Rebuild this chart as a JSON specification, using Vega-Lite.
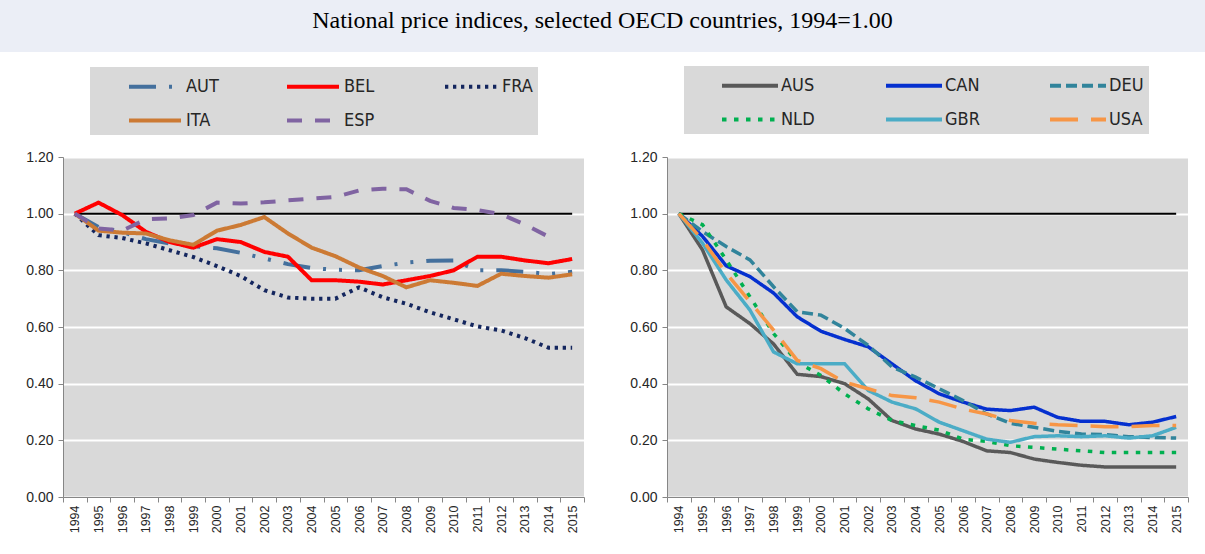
{
  "$schema": "https://vega.github.io/schema/vega-lite/v6.json",
  "background": "white",
  "padding": 0,
  "config": {
    "view": {"stroke": null},
    "font": "Liberation Sans",
    "axis": {"labelFont": "Liberation Sans", "labelColor": "#262626", "domainColor": "#868686", "tickColor": "#868686", "title": null}
  },
  "datasets": {
    "ref": [{"year": "1994", "v": 1}, {"year": "2015", "v": 1}],
    "left": [
      {"year": "1994", "c": "AUT", "v": 1.0}, {"year": "1995", "c": "AUT", "v": 0.953}, {"year": "1996", "c": "AUT", "v": 0.935}, {"year": "1997", "c": "AUT", "v": 0.91}, {"year": "1998", "c": "AUT", "v": 0.895}, {"year": "1999", "c": "AUT", "v": 0.885}, {"year": "2000", "c": "AUT", "v": 0.878}, {"year": "2001", "c": "AUT", "v": 0.862}, {"year": "2002", "c": "AUT", "v": 0.842}, {"year": "2003", "c": "AUT", "v": 0.822}, {"year": "2004", "c": "AUT", "v": 0.808}, {"year": "2005", "c": "AUT", "v": 0.802}, {"year": "2006", "c": "AUT", "v": 0.8}, {"year": "2007", "c": "AUT", "v": 0.815}, {"year": "2008", "c": "AUT", "v": 0.827}, {"year": "2009", "c": "AUT", "v": 0.834}, {"year": "2010", "c": "AUT", "v": 0.835}, {"year": "2011", "c": "AUT", "v": 0.8}, {"year": "2012", "c": "AUT", "v": 0.8}, {"year": "2013", "c": "AUT", "v": 0.795}, {"year": "2014", "c": "AUT", "v": 0.787}, {"year": "2015", "c": "AUT", "v": 0.795},
      {"year": "1994", "c": "BEL", "v": 1.0}, {"year": "1995", "c": "BEL", "v": 1.039}, {"year": "1996", "c": "BEL", "v": 0.995}, {"year": "1997", "c": "BEL", "v": 0.936}, {"year": "1998", "c": "BEL", "v": 0.9}, {"year": "1999", "c": "BEL", "v": 0.88}, {"year": "2000", "c": "BEL", "v": 0.91}, {"year": "2001", "c": "BEL", "v": 0.9}, {"year": "2002", "c": "BEL", "v": 0.865}, {"year": "2003", "c": "BEL", "v": 0.848}, {"year": "2004", "c": "BEL", "v": 0.765}, {"year": "2005", "c": "BEL", "v": 0.765}, {"year": "2006", "c": "BEL", "v": 0.76}, {"year": "2007", "c": "BEL", "v": 0.75}, {"year": "2008", "c": "BEL", "v": 0.765}, {"year": "2009", "c": "BEL", "v": 0.78}, {"year": "2010", "c": "BEL", "v": 0.8}, {"year": "2011", "c": "BEL", "v": 0.848}, {"year": "2012", "c": "BEL", "v": 0.848}, {"year": "2013", "c": "BEL", "v": 0.835}, {"year": "2014", "c": "BEL", "v": 0.825}, {"year": "2015", "c": "BEL", "v": 0.84},
      {"year": "1994", "c": "FRA", "v": 1.0}, {"year": "1995", "c": "FRA", "v": 0.924}, {"year": "1996", "c": "FRA", "v": 0.914}, {"year": "1997", "c": "FRA", "v": 0.895}, {"year": "1998", "c": "FRA", "v": 0.871}, {"year": "1999", "c": "FRA", "v": 0.847}, {"year": "2000", "c": "FRA", "v": 0.815}, {"year": "2001", "c": "FRA", "v": 0.78}, {"year": "2002", "c": "FRA", "v": 0.73}, {"year": "2003", "c": "FRA", "v": 0.704}, {"year": "2004", "c": "FRA", "v": 0.7}, {"year": "2005", "c": "FRA", "v": 0.7}, {"year": "2006", "c": "FRA", "v": 0.74}, {"year": "2007", "c": "FRA", "v": 0.705}, {"year": "2008", "c": "FRA", "v": 0.682}, {"year": "2009", "c": "FRA", "v": 0.652}, {"year": "2010", "c": "FRA", "v": 0.627}, {"year": "2011", "c": "FRA", "v": 0.602}, {"year": "2012", "c": "FRA", "v": 0.588}, {"year": "2013", "c": "FRA", "v": 0.561}, {"year": "2014", "c": "FRA", "v": 0.527}, {"year": "2015", "c": "FRA", "v": 0.527},
      {"year": "1994", "c": "ITA", "v": 1.0}, {"year": "1995", "c": "ITA", "v": 0.94}, {"year": "1996", "c": "ITA", "v": 0.933}, {"year": "1997", "c": "ITA", "v": 0.93}, {"year": "1998", "c": "ITA", "v": 0.906}, {"year": "1999", "c": "ITA", "v": 0.89}, {"year": "2000", "c": "ITA", "v": 0.94}, {"year": "2001", "c": "ITA", "v": 0.96}, {"year": "2002", "c": "ITA", "v": 0.988}, {"year": "2003", "c": "ITA", "v": 0.93}, {"year": "2004", "c": "ITA", "v": 0.88}, {"year": "2005", "c": "ITA", "v": 0.85}, {"year": "2006", "c": "ITA", "v": 0.81}, {"year": "2007", "c": "ITA", "v": 0.78}, {"year": "2008", "c": "ITA", "v": 0.74}, {"year": "2009", "c": "ITA", "v": 0.765}, {"year": "2010", "c": "ITA", "v": 0.756}, {"year": "2011", "c": "ITA", "v": 0.745}, {"year": "2012", "c": "ITA", "v": 0.788}, {"year": "2013", "c": "ITA", "v": 0.78}, {"year": "2014", "c": "ITA", "v": 0.774}, {"year": "2015", "c": "ITA", "v": 0.786},
      {"year": "1994", "c": "ESP", "v": 1.0}, {"year": "1995", "c": "ESP", "v": 0.948}, {"year": "1996", "c": "ESP", "v": 0.94}, {"year": "1997", "c": "ESP", "v": 0.98}, {"year": "1998", "c": "ESP", "v": 0.983}, {"year": "1999", "c": "ESP", "v": 0.995}, {"year": "2000", "c": "ESP", "v": 1.039}, {"year": "2001", "c": "ESP", "v": 1.036}, {"year": "2002", "c": "ESP", "v": 1.04}, {"year": "2003", "c": "ESP", "v": 1.047}, {"year": "2004", "c": "ESP", "v": 1.053}, {"year": "2005", "c": "ESP", "v": 1.059}, {"year": "2006", "c": "ESP", "v": 1.082}, {"year": "2007", "c": "ESP", "v": 1.088}, {"year": "2008", "c": "ESP", "v": 1.086}, {"year": "2009", "c": "ESP", "v": 1.045}, {"year": "2010", "c": "ESP", "v": 1.02}, {"year": "2011", "c": "ESP", "v": 1.013}, {"year": "2012", "c": "ESP", "v": 0.998}, {"year": "2013", "c": "ESP", "v": 0.962}, {"year": "2014", "c": "ESP", "v": 0.919}
    ],
    "right": [
      {"year": "1994", "c": "AUS", "v": 1.0}, {"year": "1995", "c": "AUS", "v": 0.872}, {"year": "1996", "c": "AUS", "v": 0.671}, {"year": "1997", "c": "AUS", "v": 0.612}, {"year": "1998", "c": "AUS", "v": 0.54}, {"year": "1999", "c": "AUS", "v": 0.433}, {"year": "2000", "c": "AUS", "v": 0.425}, {"year": "2001", "c": "AUS", "v": 0.4}, {"year": "2002", "c": "AUS", "v": 0.346}, {"year": "2003", "c": "AUS", "v": 0.27}, {"year": "2004", "c": "AUS", "v": 0.24}, {"year": "2005", "c": "AUS", "v": 0.222}, {"year": "2006", "c": "AUS", "v": 0.196}, {"year": "2007", "c": "AUS", "v": 0.163}, {"year": "2008", "c": "AUS", "v": 0.157}, {"year": "2009", "c": "AUS", "v": 0.134}, {"year": "2010", "c": "AUS", "v": 0.122}, {"year": "2011", "c": "AUS", "v": 0.112}, {"year": "2012", "c": "AUS", "v": 0.106}, {"year": "2013", "c": "AUS", "v": 0.106}, {"year": "2014", "c": "AUS", "v": 0.106}, {"year": "2015", "c": "AUS", "v": 0.106},
      {"year": "1994", "c": "CAN", "v": 1.0}, {"year": "1995", "c": "CAN", "v": 0.92}, {"year": "1996", "c": "CAN", "v": 0.816}, {"year": "1997", "c": "CAN", "v": 0.778}, {"year": "1998", "c": "CAN", "v": 0.72}, {"year": "1999", "c": "CAN", "v": 0.636}, {"year": "2000", "c": "CAN", "v": 0.585}, {"year": "2001", "c": "CAN", "v": 0.556}, {"year": "2002", "c": "CAN", "v": 0.53}, {"year": "2003", "c": "CAN", "v": 0.47}, {"year": "2004", "c": "CAN", "v": 0.41}, {"year": "2005", "c": "CAN", "v": 0.364}, {"year": "2006", "c": "CAN", "v": 0.335}, {"year": "2007", "c": "CAN", "v": 0.31}, {"year": "2008", "c": "CAN", "v": 0.305}, {"year": "2009", "c": "CAN", "v": 0.317}, {"year": "2010", "c": "CAN", "v": 0.281}, {"year": "2011", "c": "CAN", "v": 0.267}, {"year": "2012", "c": "CAN", "v": 0.267}, {"year": "2013", "c": "CAN", "v": 0.255}, {"year": "2014", "c": "CAN", "v": 0.264}, {"year": "2015", "c": "CAN", "v": 0.284},
      {"year": "1994", "c": "DEU", "v": 1.0}, {"year": "1995", "c": "DEU", "v": 0.937}, {"year": "1996", "c": "DEU", "v": 0.884}, {"year": "1997", "c": "DEU", "v": 0.837}, {"year": "1998", "c": "DEU", "v": 0.742}, {"year": "1999", "c": "DEU", "v": 0.654}, {"year": "2000", "c": "DEU", "v": 0.642}, {"year": "2001", "c": "DEU", "v": 0.595}, {"year": "2002", "c": "DEU", "v": 0.535}, {"year": "2003", "c": "DEU", "v": 0.459}, {"year": "2004", "c": "DEU", "v": 0.423}, {"year": "2005", "c": "DEU", "v": 0.382}, {"year": "2006", "c": "DEU", "v": 0.34}, {"year": "2007", "c": "DEU", "v": 0.293}, {"year": "2008", "c": "DEU", "v": 0.26}, {"year": "2009", "c": "DEU", "v": 0.246}, {"year": "2010", "c": "DEU", "v": 0.232}, {"year": "2011", "c": "DEU", "v": 0.222}, {"year": "2012", "c": "DEU", "v": 0.22}, {"year": "2013", "c": "DEU", "v": 0.213}, {"year": "2014", "c": "DEU", "v": 0.21}, {"year": "2015", "c": "DEU", "v": 0.208},
      {"year": "1994", "c": "NLD", "v": 1.0}, {"year": "1995", "c": "NLD", "v": 0.961}, {"year": "1996", "c": "NLD", "v": 0.837}, {"year": "1997", "c": "NLD", "v": 0.707}, {"year": "1998", "c": "NLD", "v": 0.577}, {"year": "1999", "c": "NLD", "v": 0.476}, {"year": "2000", "c": "NLD", "v": 0.429}, {"year": "2001", "c": "NLD", "v": 0.364}, {"year": "2002", "c": "NLD", "v": 0.311}, {"year": "2003", "c": "NLD", "v": 0.27}, {"year": "2004", "c": "NLD", "v": 0.252}, {"year": "2005", "c": "NLD", "v": 0.236}, {"year": "2006", "c": "NLD", "v": 0.204}, {"year": "2007", "c": "NLD", "v": 0.196}, {"year": "2008", "c": "NLD", "v": 0.181}, {"year": "2009", "c": "NLD", "v": 0.175}, {"year": "2010", "c": "NLD", "v": 0.169}, {"year": "2011", "c": "NLD", "v": 0.163}, {"year": "2012", "c": "NLD", "v": 0.157}, {"year": "2013", "c": "NLD", "v": 0.157}, {"year": "2014", "c": "NLD", "v": 0.157}, {"year": "2015", "c": "NLD", "v": 0.157},
      {"year": "1994", "c": "GBR", "v": 1.0}, {"year": "1995", "c": "GBR", "v": 0.896}, {"year": "1996", "c": "GBR", "v": 0.766}, {"year": "1997", "c": "GBR", "v": 0.66}, {"year": "1998", "c": "GBR", "v": 0.512}, {"year": "1999", "c": "GBR", "v": 0.47}, {"year": "2000", "c": "GBR", "v": 0.47}, {"year": "2001", "c": "GBR", "v": 0.47}, {"year": "2002", "c": "GBR", "v": 0.376}, {"year": "2003", "c": "GBR", "v": 0.335}, {"year": "2004", "c": "GBR", "v": 0.311}, {"year": "2005", "c": "GBR", "v": 0.264}, {"year": "2006", "c": "GBR", "v": 0.234}, {"year": "2007", "c": "GBR", "v": 0.204}, {"year": "2008", "c": "GBR", "v": 0.193}, {"year": "2009", "c": "GBR", "v": 0.213}, {"year": "2010", "c": "GBR", "v": 0.216}, {"year": "2011", "c": "GBR", "v": 0.213}, {"year": "2012", "c": "GBR", "v": 0.216}, {"year": "2013", "c": "GBR", "v": 0.208}, {"year": "2014", "c": "GBR", "v": 0.216}, {"year": "2015", "c": "GBR", "v": 0.246},
      {"year": "1994", "c": "USA", "v": 1.0}, {"year": "1995", "c": "USA", "v": 0.908}, {"year": "1996", "c": "USA", "v": 0.79}, {"year": "1997", "c": "USA", "v": 0.689}, {"year": "1998", "c": "USA", "v": 0.589}, {"year": "1999", "c": "USA", "v": 0.482}, {"year": "2000", "c": "USA", "v": 0.453}, {"year": "2001", "c": "USA", "v": 0.405}, {"year": "2002", "c": "USA", "v": 0.382}, {"year": "2003", "c": "USA", "v": 0.358}, {"year": "2004", "c": "USA", "v": 0.35}, {"year": "2005", "c": "USA", "v": 0.335}, {"year": "2006", "c": "USA", "v": 0.31}, {"year": "2007", "c": "USA", "v": 0.293}, {"year": "2008", "c": "USA", "v": 0.27}, {"year": "2009", "c": "USA", "v": 0.26}, {"year": "2010", "c": "USA", "v": 0.255}, {"year": "2011", "c": "USA", "v": 0.252}, {"year": "2012", "c": "USA", "v": 0.248}, {"year": "2013", "c": "USA", "v": 0.248}, {"year": "2014", "c": "USA", "v": 0.252}, {"year": "2015", "c": "USA", "v": 0.252}
    ]
  },
  "columns": 1,
  "align": "none",
  "spacing": 14,
  "concat": [
    {
      "width": 1205,
      "height": 52,
      "view": {"fill": "#EBEEF6"},
      "data": {"values": [{}]},
      "mark": {"type": "text"},
      "encoding": {"text": {"value": ""}},
      "title": {"text": "National price indices, selected OECD countries, 1994=1.00", "font": "Liberation Serif", "fontSize": 24, "fontWeight": "normal", "color": "#000000", "anchor": "middle", "frame": "group", "offset": -33}
    },
    {
      "spacing": 20,
      "resolve": {"scale": {"color": "independent", "strokeDash": "independent"}, "legend": {"color": "independent", "strokeDash": "independent"}},
      "hconcat": [
        {
          "width": 3,
          "height": 340,
          "data": {"values": [{}]},
          "mark": {"type": "text"},
          "encoding": {"text": {"value": ""}}
        },
        {
          "width": 521,
          "height": 340,
          "view": {"fill": "#D9D9D9"},
          "encoding": {
            "x": {"field": "year", "type": "ordinal", "scale": {"type": "band", "domain": ["1994","1995","1996","1997","1998","1999","2000","2001","2002","2003","2004","2005","2006","2007","2008","2009","2010","2011","2012","2013","2014","2015"], "paddingInner": 0, "paddingOuter": 0}, "axis": {"labelAngle": -90, "labelFontSize": 12.5, "tickBand": "extent", "tickSize": 5, "labelPadding": 3, "grid": false}},
            "y": {"field": "v", "type": "quantitative", "scale": {"domain": [0, 1.2], "nice": false}, "axis": {"values": [0, 0.2, 0.4, 0.6, 0.8, 1.0, 1.2], "format": ".2f", "grid": true, "gridColor": "#FFFFFF", "gridWidth": 2, "tickSize": 5, "labelFontSize": 14, "labelPadding": 5, "minExtent": 40}}
          },
          "layer": [
            {"data": {"name": "ref"}, "mark": {"type": "line", "color": "#000000", "strokeWidth": 2}},
            {
              "data": {"name": "left"},
              "mark": {"type": "line", "strokeWidth": 4, "strokeCap": "butt"},
              "encoding": {
                "color": {"field": "c", "type": "nominal", "scale": {"domain": ["AUT","BEL","FRA","ITA","ESP"], "range": ["#44709D","#FF0000","#14265E","#CC7A34","#8064A2"]},
                  "legend": {"title": null, "orient": "none", "legendX": 27, "legendY": -90, "columns": 3, "direction": "horizontal", "gridAlign": "all", "fillColor": "#D9D9D9", "padding": 5, "symbolType": "M1.56,0H5.72", "symbolSize": 625, "symbolStrokeWidth": 4, "labelFont": "Liberation Sans Narrow, DejaVu Sans Condensed, Liberation Sans", "labelFontSize": 18, "labelColor": "#262626", "labelOffset": 62, "columnPadding": 34, "rowPadding": 10}},
                "strokeDash": {"field": "c", "type": "nominal", "scale": {"domain": ["AUT","BEL","FRA","ITA","ESP"], "range": [[27,13,3,13,3,13],[1,0],[3.3,4.7],[1,0],[15,13]]},
                  "legend": {"title": null, "orient": "none", "legendX": 27, "legendY": -90, "columns": 3, "direction": "horizontal", "gridAlign": "all", "fillColor": "#D9D9D9", "padding": 5, "symbolType": "M1.56,0H5.72", "symbolSize": 625, "symbolStrokeWidth": 4, "labelFont": "Liberation Sans Narrow, DejaVu Sans Condensed, Liberation Sans", "labelFontSize": 18, "labelColor": "#262626", "labelOffset": 62, "columnPadding": 34, "rowPadding": 10}}
              }
            }
          ]
        },
        {
          "width": 521,
          "height": 340,
          "view": {"fill": "#D9D9D9"},
          "encoding": {
            "x": {"field": "year", "type": "ordinal", "scale": {"type": "band", "domain": ["1994","1995","1996","1997","1998","1999","2000","2001","2002","2003","2004","2005","2006","2007","2008","2009","2010","2011","2012","2013","2014","2015"], "paddingInner": 0, "paddingOuter": 0}, "axis": {"labelAngle": -90, "labelFontSize": 12.5, "tickBand": "extent", "tickSize": 5, "labelPadding": 3, "grid": false}},
            "y": {"field": "v", "type": "quantitative", "scale": {"domain": [0, 1.2], "nice": false}, "axis": {"values": [0, 0.2, 0.4, 0.6, 0.8, 1.0, 1.2], "format": ".2f", "grid": true, "gridColor": "#FFFFFF", "gridWidth": 2, "tickSize": 5, "labelFontSize": 14, "labelPadding": 5, "minExtent": 62}}
          },
          "layer": [
            {"data": {"name": "ref"}, "mark": {"type": "line", "color": "#000000", "strokeWidth": 2}},
            {
              "data": {"name": "right"},
              "mark": {"type": "line", "strokeWidth": 3.5, "strokeCap": "butt"},
              "encoding": {
                "color": {"field": "c", "type": "nominal", "scale": {"domain": ["AUS","CAN","DEU","NLD","GBR","USA"], "range": ["#595959","#0530CF","#31849B","#00B050","#4BACC6","#F79646"]},
                  "legend": {"title": null, "orient": "none", "legendX": 17, "legendY": -91, "columns": 3, "direction": "horizontal", "gridAlign": "all", "fillColor": "#D9D9D9", "padding": 5, "symbolType": "M1.48,0H5.96", "symbolSize": 625, "symbolStrokeWidth": 4, "labelFont": "Liberation Sans Narrow, DejaVu Sans Condensed, Liberation Sans", "labelFontSize": 18, "labelColor": "#262626", "labelOffset": 63, "columnPadding": 37, "rowPadding": 10}},
                "strokeDash": {"field": "c", "type": "nominal", "scale": {"domain": ["AUS","CAN","DEU","NLD","GBR","USA"], "range": [[1,0],[1,0],[11,5],[4.5,7.5],[1,0],[28,13]]},
                  "legend": {"title": null, "orient": "none", "legendX": 17, "legendY": -91, "columns": 3, "direction": "horizontal", "gridAlign": "all", "fillColor": "#D9D9D9", "padding": 5, "symbolType": "M1.48,0H5.96", "symbolSize": 625, "symbolStrokeWidth": 4, "labelFont": "Liberation Sans Narrow, DejaVu Sans Condensed, Liberation Sans", "labelFontSize": 18, "labelColor": "#262626", "labelOffset": 63, "columnPadding": 37, "rowPadding": 10}}
              }
            }
          ]
        }
      ]
    }
  ]
}
